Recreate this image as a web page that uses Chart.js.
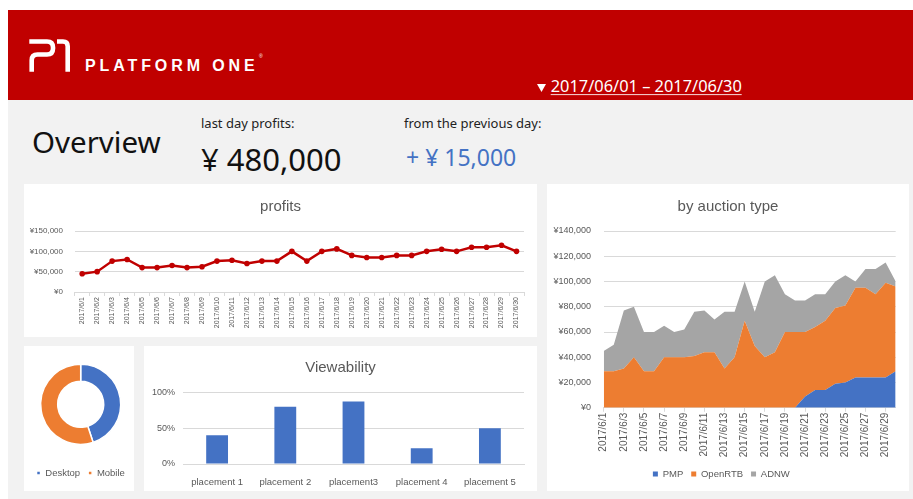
<!DOCTYPE html>
<html>
<head>
<meta charset="utf-8">
<script src="https://cdn.jsdelivr.net/npm/chart.js@4.4.0/dist/chart.umd.min.js"></script>
<style>
  body { margin: 0; width: 913px; height: 499px; position: relative; overflow: hidden; background: #fff; }
  #bg { position: absolute; left: 0; top: 0; }
  .card { position: absolute; background: #fff; }
  .card canvas { display: block; position: absolute; left: 0; top: 0; }
  .title { position: absolute; left: 0; right: 0; text-align: center; color: #595959;
           font-family: "Liberation Sans", Arial, sans-serif; font-size: 15px; line-height: 18px; }
</style>
</head>
<body>
<svg id="bg" width="913" height="499" xmlns="http://www.w3.org/2000/svg">
  <rect x="8" y="10" width="905" height="90" fill="#c00000"/>
  <rect x="8" y="100" width="905" height="399" fill="#f2f2f2"/>
  <!-- лого -->
  <path d="M29.3 41.5 H47 Q53 41.5 53 47.5 V48.5 Q53 54.5 47 54.5 H37.5 Q31.7 54.5 31.7 60.3 V71.7" fill="none" stroke="#fff" stroke-width="4.6"/>
  <path d="M57 41.5 H63 Q67.7 41.5 67.7 46.2 V71.7" fill="none" stroke="#fff" stroke-width="4.6"/>
  <text x="85" y="71" fill="#fff" font-family="Liberation Sans, Arial, sans-serif" font-weight="bold" font-size="16" letter-spacing="3.9">PLATFORM ONE</text>
  <text x="259" y="58" fill="#fff" font-family="Liberation Sans, Arial, sans-serif" font-size="5">®</text>
  <!-- период -->
  <polygon points="537,84 546,84 541.5,92" fill="#fff"/>
  <text x="550.7" y="92.3" fill="#fff" font-family="Noto Sans, sans-serif" font-size="16.4">2017/06/01 – 2017/06/30</text>
  <line x1="550.7" y1="94.6" x2="741.7" y2="94.6" stroke="#fff" stroke-opacity="0.85" stroke-width="1"/>
  <!-- обобщение -->
  <text x="32" y="153" fill="#111" font-family="Noto Sans, sans-serif" font-size="29.5">Overview</text>
  <text x="201" y="128" fill="#222" font-family="Noto Sans, sans-serif" font-size="13">last day profits:</text>
  <text x="201" y="171" fill="#111" font-family="Noto Sans, sans-serif" font-size="31">¥ 480,000</text>
  <text x="404" y="128" fill="#222" font-family="Noto Sans, sans-serif" font-size="13">from the previous day:</text>
  <text x="406" y="166" fill="#4472c4" font-family="Noto Sans, sans-serif" font-size="23">+ ¥ 15,000</text>
</svg>

<div class="card" style="left:24px; top:184px; width:513px; height:153px;">
  <canvas id="profitChart" width="513" height="153"></canvas>
  <div class="title" style="top:13px;">profits</div>
</div>
<div class="card" style="left:547px; top:184px; width:362px; height:307px;">
  <canvas id="auctionChart" width="362" height="307"></canvas>
  <div class="title" style="top:13px;">by auction type</div>
</div>
<div class="card" style="left:24px; top:346px; width:110px; height:145px;">
  <canvas id="deviceChart" width="110" height="145"></canvas>
</div>
<div class="card" style="left:144px; top:346px; width:393px; height:145px;">
  <canvas id="viewChart" width="393" height="145"></canvas>
  <div class="title" style="top:11.7px;">Viewability</div>
</div>

<script>
// данни
const days = ['2017/6/1', '2017/6/2', '2017/6/3', '2017/6/4', '2017/6/5', '2017/6/6', '2017/6/7', '2017/6/8', '2017/6/9', '2017/6/10',
    '2017/6/11', '2017/6/12', '2017/6/13', '2017/6/14', '2017/6/15', '2017/6/16', '2017/6/17', '2017/6/18', '2017/6/19', '2017/6/20',
    '2017/6/21', '2017/6/22', '2017/6/23', '2017/6/24', '2017/6/25', '2017/6/26', '2017/6/27', '2017/6/28', '2017/6/29', '2017/6/30'];

const profits = [45000, 50000, 76000, 80000, 60000, 60000, 65000, 60000, 62000, 76000,
    78000, 70000, 76000, 76000, 100000, 76000, 100000, 106000, 90000, 85000,
    85000, 90000, 90000, 100000, 105000, 100000, 110000, 110000, 115000, 100000];

const pmp = [0, 0, 0, 0, 0, 0, 0, 0, 0, 0,
    0, 0, 0, 0, 0, 0, 0, 0, 0, 0,
    9000, 14000, 14000, 19000, 20000, 24000, 24000, 24000, 24000, 29000];
const openRtb = [29000, 29000, 31000, 40000, 29000, 29000, 40000, 40000, 40000, 41000,
    44000, 44000, 31000, 40000, 69000, 49000, 40000, 44000, 60000, 60000,
    51000, 50000, 55000, 60000, 61000, 71000, 71000, 66000, 75000, 67000];
const adnw = [16000, 21000, 46000, 40000, 31000, 31000, 25000, 20000, 22000, 35000,
    33000, 26000, 45000, 36000, 31000, 27000, 60000, 61000, 30000, 25000,
    25000, 26000, 21000, 21000, 24000, 5000, 15000, 20000, 16000, 4000];

const devices = ['Desktop', 'Mobile'];
const deviceShare = [45, 55];

const placements = ['placement 1', 'placement 2', 'placement3', 'placement 4', 'placement 5'];
const viewability = [40, 80, 87, 22, 50];

const blue = '#4472c4';
const orange = '#ed7d31';
const gray = '#a5a5a5';
const red = '#c00000';
const gridColor = '#d9d9d9';
const textColor = '#595959';

Chart.defaults.font.family = '"Liberation Sans", Arial, sans-serif';
Chart.defaults.color = textColor;

const yen = v => '¥' + v.toLocaleString('en-US');

// линейна графика - печалби
new Chart(document.getElementById('profitChart'), {
    type: 'line',
    data: {
        labels: days,
        datasets: [{
            data: profits,
            borderColor: red,
            backgroundColor: red,
            borderWidth: 2.5,
            pointRadius: 2.8,
            pointBorderWidth: 0,
            pointBackgroundColor: red,
            tension: 0
        }]
    },
    options: {
        responsive: false,
        animation: false,
        layout: { padding: { left: 0, right: 13, top: 47, bottom: 0 } },
        plugins: {
            legend: { display: false },
            tooltip: { enabled: false }
        },
        scales: {
            x: {
                offset: true,
                grid: { offset: true, drawOnChartArea: false, color: gridColor, tickLength: 4 },
                border: { color: gridColor },
                ticks: { autoSkip: false, minRotation: 90, maxRotation: 90, padding: 1, font: { size: 7 } },
                afterFit: s => { s.height = 45; }
            },
            y: {
                min: 0,
                max: 150000,
                ticks: { stepSize: 50000, padding: 11.7, font: { size: 8 }, callback: yen },
                grid: { color: gridColor, drawTicks: false },
                border: { display: false },
                afterFit: s => { s.width = 50.7; }
            }
        }
    }
});

// stacked area - по тип търг
new Chart(document.getElementById('auctionChart'), {
    type: 'line',
    data: {
        labels: days,
        datasets: [
            { label: 'PMP', data: pmp, backgroundColor: blue, borderColor: blue, fill: 'origin' },
            { label: 'OpenRTB', data: openRtb, backgroundColor: orange, borderColor: orange, fill: '-1' },
            { label: 'ADNW', data: adnw, backgroundColor: gray, borderColor: gray, fill: '-1' }
        ]
    },
    options: {
        responsive: false,
        animation: false,
        elements: { point: { radius: 0 }, line: { borderWidth: 0, tension: 0 } },
        layout: { padding: { left: 0, right: 13.3, top: 47, bottom: 2.25 } },
        plugins: {
            tooltip: { enabled: false },
            legend: {
                position: 'bottom',
                labels: { boxWidth: 5, boxHeight: 5, padding: 8, font: { size: 9.5 } }
            }
        },
        scales: {
            x: {
                offset: false,
                grid: {
                    drawOnChartArea: false,
                    tickLength: 4,
                    color: ctx => (ctx.index % 2 === 0 ? gridColor : 'rgba(0,0,0,0)')
                },
                border: { color: gridColor },
                ticks: {
                    autoSkip: false,
                    minRotation: 90,
                    maxRotation: 90,
                    padding: 1,
                    font: { size: 10 },
                    callback: (v, i) => (i % 2 === 0 ? days[i] : '')
                },
                afterFit: s => { s.height = 53.5; }
            },
            y: {
                stacked: true,
                min: 0,
                max: 140000,
                ticks: { stepSize: 20000, padding: 12.7, font: { size: 9 }, callback: yen },
                grid: { color: gridColor, drawTicks: false },
                border: { display: false },
                afterFit: s => { s.width = 56.7; }
            }
        }
    }
});

// donut - устройства
new Chart(document.getElementById('deviceChart'), {
    type: 'doughnut',
    data: {
        labels: devices,
        datasets: [{
            data: deviceShare,
            backgroundColor: [blue, orange],
            borderColor: '#fff',
            borderWidth: 1.5
        }]
    },
    options: {
        responsive: false,
        animation: false,
        radius: 40,
        cutout: '57.5%',
        layout: { padding: { left: 3.4, right: 0, top: 2.35, bottom: 3.25 } },
        plugins: {
            tooltip: { enabled: false },
            legend: {
                position: 'bottom',
                labels: { boxWidth: 4, boxHeight: 4, padding: 8, font: { size: 9.5 } }
            }
        }
    }
});

// bar - viewability
new Chart(document.getElementById('viewChart'), {
    type: 'bar',
    data: {
        labels: placements,
        datasets: [{
            data: viewability,
            backgroundColor: blue,
            categoryPercentage: 1,
            barPercentage: 0.32
        }]
    },
    options: {
        responsive: false,
        animation: false,
        layout: { padding: { left: 0, right: 13, top: 46.3, bottom: 0 } },
        plugins: {
            legend: { display: false },
            tooltip: { enabled: false }
        },
        scales: {
            x: {
                grid: { display: false },
                border: { color: gridColor },
                ticks: { padding: 5, font: { size: 9.5 } },
                afterFit: s => { s.height = 27; }
            },
            y: {
                min: 0,
                max: 100,
                ticks: { stepSize: 50, padding: 8, font: { size: 9 }, callback: v => v + '%' },
                grid: { color: gridColor, drawTicks: false },
                border: { display: false },
                afterFit: s => { s.width = 39; }
            }
        }
    }
});
</script>
</body>
</html>
